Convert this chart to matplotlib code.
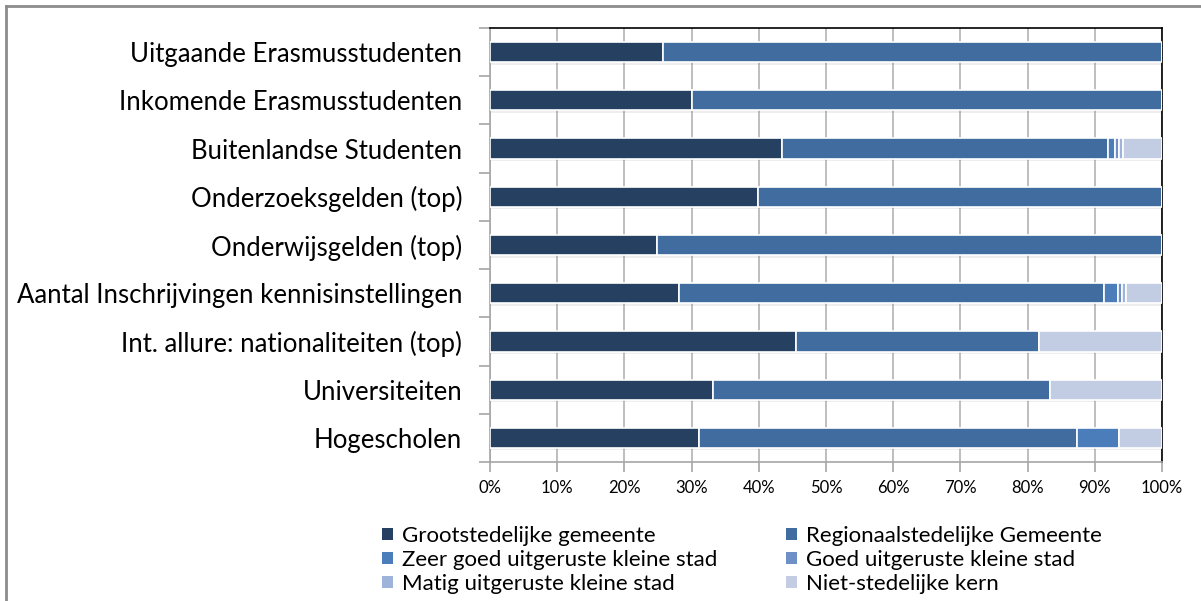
import numpy as np
import matplotlib.pyplot as plt
from matplotlib.lines import Line2D
from matplotlib.patches import Patch

plt.rcParams['font.family'] = ['Lato', 'DejaVu Sans']

# categorieën, van boven naar beneden
categories = ['Uitgaande Erasmusstudenten', 'Inkomende Erasmusstudenten', 'Buitenlandse Studenten',
              'Onderzoeksgelden (top)', 'Onderwijsgelden (top)', 'Aantal Inschrijvingen kennisinstellingen',
              'Int. allure: nationaliteiten (top)', 'Universiteiten', 'Hogescholen']

groot = [25.8, 30.1, 43.4, 39.9, 24.9, 28.1, 45.5, 33.2, 31.1]
regio = [74.2, 69.9, 48.6, 60.1, 75.1, 63.3, 36.2, 50.1, 56.3]
zeer = [0, 0, 1.0, 0, 0, 2.1, 0, 0, 6.2]
goed = [0, 0, 0.6, 0, 0, 0.6, 0, 0, 0]
matig = [0, 0, 0.6, 0, 0, 0.6, 0, 0, 0]
niet = [0, 0, 5.8, 0, 0, 5.3, 18.3, 16.7, 6.4]

series = [groot, regio, zeer, goed, matig, niet]
names = ['Grootstedelijke gemeente', 'Regionaalstedelijke Gemeente', 'Zeer goed uitgeruste kleine stad',
         'Goed uitgeruste kleine stad', 'Matig uitgeruste kleine stad', 'Niet-stedelijke kern']
colors = ['#254061', '#416C9F', '#4A7DBA', '#6E90C6', '#9DB3D9', '#C2CCE3']

fig = plt.figure(figsize=(12.01, 6.01), dpi=100)
ax = fig.add_axes([490 / 1201, 1 - 462 / 601, 672 / 1201, 434 / 601])

y = np.arange(len(categories))
h = 0.42

# schaduw onder de balken
totals = np.sum(series, axis=0)
ax.barh(y + 0.05, totals, height=h, left=0.2, color='#7f7f7f', alpha=0.13, zorder=1, linewidth=0)

left = np.zeros(len(categories))
for vals, name, c in zip(series, names, colors):
    vals = np.array(vals)
    ax.barh(y, vals, height=h, left=left, color=c, edgecolor='white', linewidth=1.2, zorder=3, label=name)
    left += vals

ax.set_xlim(0, 100)
ax.set_ylim(len(categories) - 0.5, -0.5)
ax.set_xticks(np.arange(0, 101, 10))
ax.set_xticklabels([f'{v}%' for v in range(0, 101, 10)], fontsize=12)
ax.set_yticks(y)
ax.set_yticklabels(categories, fontsize=18.5)
ax.set_yticks(np.arange(-0.5, len(categories)), minor=True)
ax.tick_params(axis='y', which='major', length=0, pad=20)
ax.tick_params(axis='y', which='minor', length=8, color='#a6a6a6', width=1.2)
ax.tick_params(axis='x', length=7, color='#a6a6a6', width=1.2, pad=6)
ax.xaxis.grid(True, color='#b3b3b3', linewidth=1.2, zorder=0)
ax.set_axisbelow(True)
for s in ['left', 'bottom']:
    ax.spines[s].set_color('#a6a6a6')
    ax.spines[s].set_linewidth(1.2)
for s in ['top', 'right']:
    ax.spines[s].set_color('black')
    ax.spines[s].set_linewidth(1.2)

# legenda, kolomsgewijs gevuld
handles = [Patch(facecolor=c, edgecolor='none') for c in colors]
order = [0, 2, 4, 1, 3, 5]
fig.legend([handles[i] for i in order], [names[i] for i in order], ncol=2, frameon=False,
           fontsize=16, loc='upper left', bbox_to_anchor=(373 / 1201, 1 - 517 / 601),
           handlelength=0.5, handleheight=0.5, handletextpad=0.4, columnspacing=3.08,
           labelspacing=0.18, borderaxespad=0)

# rand van het kader
fig.add_artist(Line2D([6 / 1201, 1], [1 - 6 / 601, 1 - 6 / 601], color='#8c8c8c', linewidth=2))
fig.add_artist(Line2D([6 / 1201, 6 / 1201], [0, 1 - 6 / 601], color='#8c8c8c', linewidth=2))

fig.savefig('out.png', dpi=100)
